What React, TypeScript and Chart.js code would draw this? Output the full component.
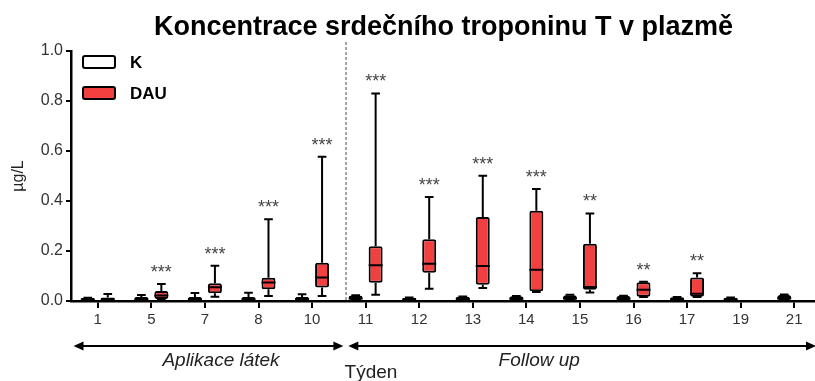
import { useEffect, useRef } from 'react';
import { Chart, registerables } from 'chart.js';

Chart.register(...registerables);

const categories = ['1', '5', '7', '8', '10', '11', '12', '13', '14', '15', '16', '17', '19', '21'];

// K (control) group box-plot statistics (µg/L)
const kMin = [0, 0, 0, 0, 0, 0, 0, 0, 0, 0, 0, 0, 0, 0];
const kQ1 = [0, 0, 0, 0, 0, 0, 0, 0, 0, 0, 0, 0, 0, 0];
const kMed = [0.005, 0.007, 0.007, 0.007, 0.007, 0.01, 0.005, 0.008, 0.009, 0.01, 0.009, 0.006, 0.005, 0.01];
const kQ3 = [0.012, 0.016, 0.016, 0.016, 0.016, 0.022, 0.013, 0.017, 0.019, 0.023, 0.02, 0.015, 0.013, 0.024];
const kMax = [0.013, 0.024, 0.032, 0.033, 0.027, 0.023, 0.014, 0.018, 0.02, 0.025, 0.021, 0.016, 0.014, 0.026];

// DAU group box-plot statistics (µg/L)
const dauMin = [0, 0.004, 0.017, 0.02, 0.02, 0.025, 0.049, 0.052, 0.036, 0.034, 0.016, 0.016, null, null];
const dauQ1 = [0, 0.008, 0.031, 0.047, 0.054, 0.073, 0.113, 0.065, 0.039, 0.045, 0.017, 0.017, null, null];
const dauMed = [0.006, 0.022, 0.055, 0.074, 0.094, 0.143, 0.149, 0.14, 0.125, 0.056, 0.045, 0.029, null, null];
const dauQ3 = [0.014, 0.04, 0.071, 0.093, 0.153, 0.219, 0.247, 0.336, 0.361, 0.229, 0.075, 0.094, null, null];
const dauMax = [0.028, 0.068, 0.141, 0.327, 0.577, 0.83, 0.416, 0.501, 0.448, 0.35, 0.077, 0.111, null, null];

const significance = ['', '***', '***', '***', '***', '***', '***', '***', '***', '**', '**', '**', '', ''];

const seriesLabels = ['K', 'DAU'];
const yTicks = [0, 0.2, 0.4, 0.6, 0.8, 1.0];

const FONT = "'Liberation Sans', Arial, Helvetica, sans-serif";
const RED = '#f23f3f';

const boxPlugin = {
  id: 'boxWhiskers',
  afterDatasetsDraw(chart: any) {
    const ctx = chart.ctx;
    const y = chart.scales.y;
    chart.data.datasets.forEach((ds: any, d: number) => {
      const meta = chart.getDatasetMeta(d);
      const st = ds.stats;
      meta.data.forEach((el: any, i: number) => {
        const raw = ds.data[i];
        if (!raw) return;
        const x = el.x;
        const w = el.width;
        const pMin = y.getPixelForValue(st.min[i]);
        const pMax = y.getPixelForValue(st.max[i]);
        const pQ1 = y.getPixelForValue(raw[0]);
        const pQ3 = y.getPixelForValue(raw[1]);
        const pMed = y.getPixelForValue(st.med[i]);
        const cap = w * 0.62;
        ctx.save();
        ctx.strokeStyle = '#000';
        ctx.lineWidth = 2;
        ctx.beginPath();
        ctx.moveTo(x, pQ3);
        ctx.lineTo(x, pMax);
        ctx.moveTo(x - cap / 2, pMax);
        ctx.lineTo(x + cap / 2, pMax);
        ctx.moveTo(x, pQ1);
        ctx.lineTo(x, pMin);
        ctx.moveTo(x - cap / 2, pMin);
        ctx.lineTo(x + cap / 2, pMin);
        ctx.stroke();
        ctx.beginPath();
        ctx.moveTo(x - w / 2, pMed);
        ctx.lineTo(x + w / 2, pMed);
        ctx.stroke();
        ctx.restore();
        if (d === 1 && significance[i]) {
          ctx.save();
          ctx.fillStyle = '#444';
          ctx.font = `18px ${FONT}`;
          ctx.textAlign = 'center';
          ctx.textBaseline = 'middle';
          ctx.fillText(significance[i], x, pMax - 16 + 5);
          ctx.restore();
        }
      });
    });
  },
};

function arrow(ctx: CanvasRenderingContext2D, x1: number, x2: number, yy: number) {
  ctx.beginPath();
  ctx.moveTo(x1 + 6, yy);
  ctx.lineTo(x2 - 6, yy);
  ctx.stroke();
  const head = (tip: number, dir: number) => {
    ctx.beginPath();
    ctx.moveTo(tip, yy);
    ctx.lineTo(tip - dir * 10, yy - 4.5);
    ctx.lineTo(tip - dir * 10, yy + 4.5);
    ctx.closePath();
    ctx.fill();
  };
  head(x1, -1);
  head(x2, 1);
}

const annotationPlugin = {
  id: 'annotations',
  afterDraw(chart: any) {
    const ctx = chart.ctx;
    const area = chart.chartArea;
    const xs = chart.scales.x;
    ctx.save();
    // title
    ctx.fillStyle = '#000';
    ctx.font = `bold 27px ${FONT}`;
    ctx.textAlign = 'center';
    ctx.textBaseline = 'alphabetic';
    ctx.fillText('Koncentrace srdečního troponinu T v plazmě', 443.5, 35);

    // divider
    const xd = xs.getPixelForValue(4.634);
    ctx.strokeStyle = '#888';
    ctx.lineWidth = 1.5;
    ctx.setLineDash([3, 2]);
    ctx.beginPath();
    ctx.moveTo(xd, area.top - 9);
    ctx.lineTo(xd, area.bottom);
    ctx.stroke();
    ctx.setLineDash([]);

    // legend
    const colors = ['#ffffff', RED];
    const tops = [area.top + 5, area.top + 36];
    seriesLabels.forEach((lab, i) => {
      ctx.fillStyle = colors[i];
      ctx.strokeStyle = '#000';
      ctx.lineWidth = 2;
      ctx.beginPath();
      ctx.roundRect(area.left + 12, tops[i], 32, 12, 2);
      ctx.fill();
      ctx.stroke();
      ctx.fillStyle = '#000';
      ctx.font = `bold 17px ${FONT}`;
      ctx.textAlign = 'left';
      ctx.textBaseline = 'middle';
      ctx.fillText(lab, area.left + 59, tops[i] + 7);
    });

    // bottom arrows and labels
    const ya = area.bottom + 45;
    ctx.strokeStyle = '#000';
    ctx.fillStyle = '#000';
    ctx.lineWidth = 2;
    arrow(ctx, xs.getPixelForValue(-0.453), xs.getPixelForValue(4.584), ya);
    arrow(ctx, xs.getPixelForValue(4.677), 816, ya);

    ctx.font = `italic 19px ${FONT}`;
    ctx.textAlign = 'center';
    ctx.textBaseline = 'middle';
    ctx.fillStyle = '#222';
    ctx.fillText('Aplikace látek', xs.getPixelForValue(2.3), area.bottom + 60);
    ctx.fillText('Follow up', xs.getPixelForValue(8.24), area.bottom + 60);
    ctx.font = `19px ${FONT}`;
    ctx.fillText('Týden', xs.getPixelForValue(5.1), area.bottom + 72);
    ctx.restore();
  },
};

export default function App() {
  const ref = useRef<HTMLCanvasElement>(null);
  useEffect(() => {
    document.body.style.margin = '0';
    document.body.style.overflow = 'hidden';
    const canvas = ref.current;
    if (!canvas) return;
    const chart = new Chart(canvas, {
      type: 'bar',
      data: {
        labels: categories,
        datasets: [
          {
            label: seriesLabels[0],
            data: kQ1.map((q, i) => [q, kQ3[i]]),
            backgroundColor: '#ffffff',
            borderColor: '#000',
            borderWidth: 3,
            borderSkipped: false,
            borderRadius: 4,
            stats: { min: kMin, med: kMed, max: kMax },
          } as any,
          {
            label: seriesLabels[1],
            data: dauQ1.map((q, i) => (q == null ? null : [q, dauQ3[i] as number])),
            backgroundColor: RED,
            borderColor: '#000',
            borderWidth: 2,
            borderSkipped: false,
            borderRadius: 2,
            stats: { min: dauMin, med: dauMed, max: dauMax },
          } as any,
        ],
      },
      options: {
        animation: false,
        responsive: false,
        layout: { padding: { top: 51, left: 0, right: 0, bottom: 0 } },
        datasets: { bar: { categoryPercentage: 0.746, barPercentage: 0.7 } },
        plugins: {
          legend: { display: false },
          title: { display: false },
          tooltip: { enabled: false },
        },
        scales: {
          x: {
            offset: true,
            grid: {
              offset: false,
              drawOnChartArea: false,
              drawTicks: true,
              tickLength: 7,
              color: '#000',
              lineWidth: 2,
            },
            border: { display: true, color: '#000', width: 2.5 },
            ticks: {
              color: '#333',
              font: { family: FONT, size: 15 },
              padding: 3,
              maxRotation: 0,
              autoSkip: false,
            },
            afterFit: (s: any) => {
              s.height = 80;
            },
          },
          y: {
            min: 0,
            max: 1,
            afterBuildTicks: (s: any) => {
              s.ticks = yTicks.map((v) => ({ value: v }));
            },
            ticks: {
              callback: (v: any) => Number(v).toFixed(1),
              color: '#333',
              font: { family: FONT, size: 16 },
              padding: 3,
            },
            grid: {
              drawOnChartArea: false,
              drawTicks: true,
              tickLength: 5,
              color: '#000',
              lineWidth: 2,
            },
            border: { display: true, color: '#000', width: 2.5 },
            title: {
              display: true,
              text: 'µg/L',
              color: '#222',
              font: { family: FONT, size: 16 },
              padding: { top: 9, bottom: 0 },
            },
            afterFit: (s: any) => {
              s.width = 71;
            },
          },
        },
      } as any,
      plugins: [boxPlugin, annotationPlugin],
    });
    return () => chart.destroy();
  }, []);
  return <canvas ref={ref} width={821} height={381} style={{ display: 'block' }} />;
}
